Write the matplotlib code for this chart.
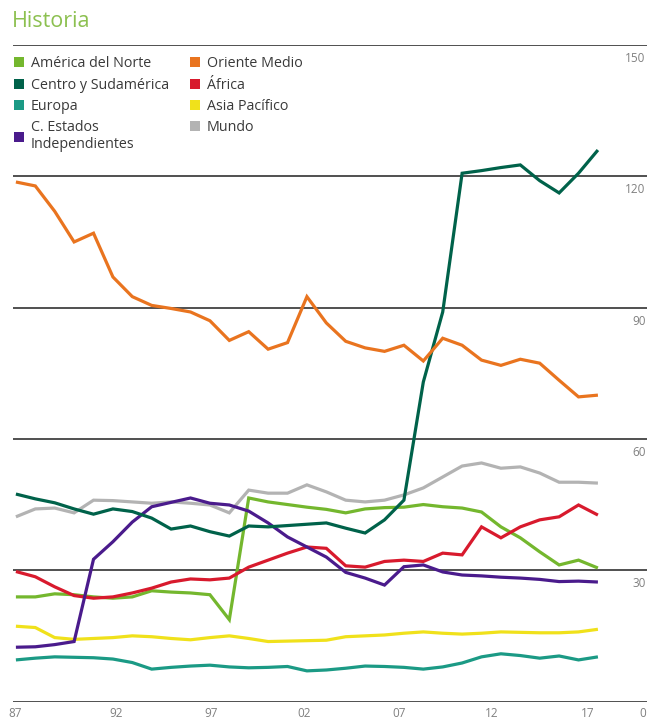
import matplotlib.pyplot as plt
from matplotlib.patches import Patch
import numpy as np

plt.rcParams['font.family'] = ['Open Sans', 'DejaVu Sans']

years = np.arange(1987, 2018)

america_norte = [23.9, 23.9, 24.6, 24.4, 23.9, 23.6, 23.9, 25.3, 25.0, 24.8,
                 24.4, 18.7, 46.5, 45.6, 45.0, 44.4, 43.9, 43.1, 44.0, 44.3,
                 44.4, 45.0, 44.5, 44.2, 43.3, 39.9, 37.4, 34.2, 31.2, 32.3,
                 30.5]
centro_sud = [47.4, 46.3, 45.4, 44.0, 42.8, 44.0, 43.4, 41.9, 39.4, 40.1,
              38.8, 37.8, 40.1, 39.9, 40.2, 40.5, 40.8, 39.6, 38.5, 41.5,
              46.0, 73.0, 89.0, 120.7, 121.3, 122.0, 122.6, 119.0, 116.2, 120.7,
              126.0]
europa = [9.5, 9.9, 10.2, 10.1, 10.0, 9.7, 8.9, 7.4, 7.8, 8.1,
          8.3, 7.9, 7.7, 7.8, 8.0, 7.0, 7.2, 7.6, 8.1, 8.0,
          7.8, 7.4, 7.9, 8.8, 10.2, 10.9, 10.5, 9.9, 10.4, 9.5,
          10.2]
cei = [12.4, 12.5, 13.0, 13.7, 32.5, 36.5, 41.0, 44.5, 45.5, 46.5,
       45.3, 44.9, 43.5, 40.8, 37.6, 35.3, 33.0, 29.5, 28.2, 26.6,
       30.8, 31.2, 29.6, 28.9, 28.7, 28.4, 28.2, 27.9, 27.4, 27.5,
       27.3]
oriente_medio = [118.7, 117.8, 112.0, 105.0, 107.0, 97.0, 92.5, 90.5, 89.8, 89.0,
                 87.0, 82.5, 84.5, 80.5, 82.0, 92.5, 86.5, 82.3, 80.8, 80.0,
                 81.4, 77.8, 83.0, 81.4, 78.0, 76.8, 78.2, 77.3, 73.4, 69.6,
                 70.0]
africa = [29.7, 28.5, 26.2, 24.2, 23.6, 23.9, 24.8, 25.9, 27.3, 28.0,
          27.8, 28.2, 30.7, 32.3, 33.9, 35.3, 35.0, 31.0, 30.7, 32.0,
          32.3, 32.0, 33.9, 33.5, 39.9, 37.4, 39.9, 41.5, 42.2, 44.9,
          42.6]
asia_pacifico = [17.2, 16.9, 14.6, 14.2, 14.4, 14.6, 15.0, 14.8, 14.4, 14.1,
                 14.6, 15.0, 14.4, 13.7, 13.8, 13.9, 14.0, 14.8, 15.0, 15.2,
                 15.6, 15.9, 15.6, 15.4, 15.6, 15.9, 15.8, 15.7, 15.7, 15.9,
                 16.5]
mundo = [42.2, 44.0, 44.2, 43.1, 46.0, 45.9, 45.6, 45.3, 45.6, 45.3,
         44.9, 43.1, 48.3, 47.6, 47.6, 49.5, 47.9, 46.0, 45.6, 46.0,
         47.2, 48.8, 51.3, 53.8, 54.5, 53.3, 53.6, 52.2, 50.1, 50.1,
         49.9]

names = ['América del Norte', 'Centro y Sudamérica', 'Europa',
         'C. Estados\nIndependientes', 'Oriente Medio', 'África',
         'Asia Pacífico', 'Mundo']
colors = ['#74b72e', '#00624a', '#1b9a85', '#4a1b8c',
          '#e9741f', '#d81a2d', '#f0e11b', '#b3b3b3']
series = [america_norte, centro_sud, europa, cei,
          oriente_medio, africa, asia_pacifico, mundo]

y_ticks = [30, 60, 90, 120, 150]
x_labels = ['87', '92', '97', '02', '07', '12', '17', '0']

fig = plt.figure(figsize=(6.47, 7.23), dpi=100)
ax = fig.add_axes([13 / 647, 21.5 / 723, 634 / 647, 656.5 / 723])

# gray world line underneath, the regions on top
order = [7, 2, 6, 0, 5, 3, 1, 4]
for i in order:
    ax.plot(years, series[i], color=colors[i], lw=2.3, solid_joinstyle='miter',
            solid_capstyle='butt', zorder=3)

for v in [0] + y_ticks:
    ax.axhline(v, color='#505050', lw=1.4, zorder=2)
for v in y_ticks:
    ax.annotate(str(v), xy=(1, v), xycoords=('axes fraction', 'data'),
                xytext=(-1, -5), textcoords='offset points',
                ha='right', va='top', fontsize=8.5, color='#808080')

ax.set_xlim(1986.85, 2019.53)
ax.set_ylim(0, 150)
for s in ax.spines.values():
    s.set_visible(False)
ax.set_yticks([])
ax.set_xticks([1986.95, 1992.15, 1997.05, 2001.85, 2006.75, 2011.55, 2016.45, 2019.3])
ax.set_xticklabels(x_labels)
ax.tick_params(axis='x', length=0, pad=4, labelsize=8.5, labelcolor='#808080')

handles = [Patch(facecolor=c, edgecolor='none') for c in colors]
leg = ax.legend(handles, names, ncol=2, loc='upper left',
                bbox_to_anchor=(0.0, 0.985), frameon=False, fontsize=10.3,
                handlelength=0.7, handleheight=0.7, handletextpad=0.45,
                labelspacing=0.44, columnspacing=1.5, borderaxespad=0.0,
                borderpad=0.1)
for t in leg.get_texts():
    t.set_color('#3a3a3a')

fig.text(12 / 647, 1 - 27 / 723, 'Historia', fontsize=15.5, color='#8cc050',
         ha='left', va='baseline')

fig.savefig('out.png', dpi=100)
